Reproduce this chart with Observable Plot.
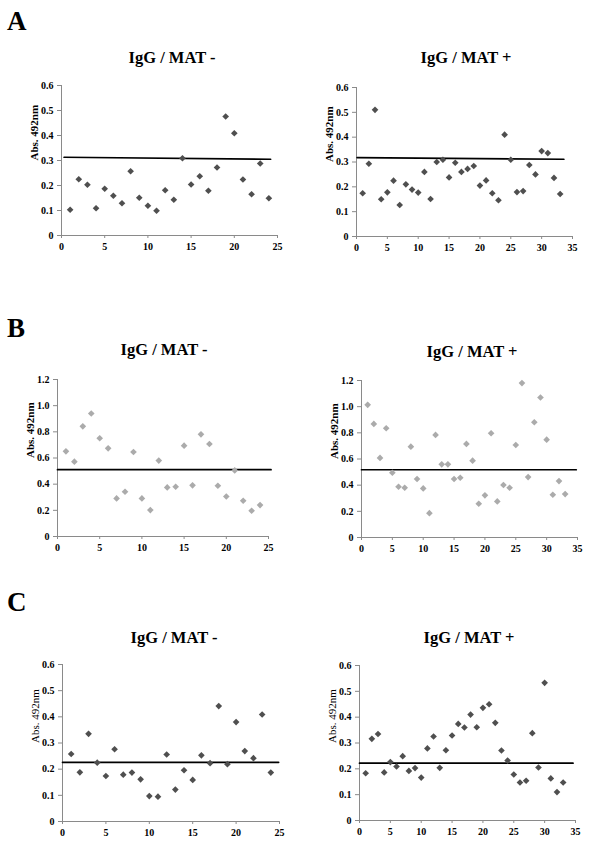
<!DOCTYPE html>
<html>
<head>
<meta charset="utf-8">
<script src="https://cdn.jsdelivr.net/npm/d3@7"></script>
<script src="https://cdn.jsdelivr.net/npm/@observablehq/plot@0.6"></script>
<style>
  html, body { margin: 0; padding: 0; background: #fff; }
  #fig { position: relative; width: 600px; height: 853px; overflow: hidden; background: #fff; }
  #fig .panel { position: absolute; }
  #fig svg.ann { position: absolute; left: 0; top: 0; pointer-events: none; }
</style>
</head>
<body>
<div id="fig"></div>
<script>
// ---------- data (absorbance at 492 nm, one value per serum sample) ----------
const aMinus = [0.103,0.225,0.203,0.109,0.187,0.159,0.129,0.257,0.151,0.119,0.099,0.181,0.143,0.309,0.204,0.237,0.179,0.272,0.476,0.409,0.224,0.165,0.288,0.149];
const aPlus  = [0.174,0.293,0.510,0.150,0.178,0.225,0.127,0.210,0.189,0.177,0.260,0.151,0.300,0.309,0.238,0.297,0.260,0.272,0.284,0.205,0.226,0.174,0.146,0.410,0.309,0.179,0.183,0.288,0.250,0.344,0.336,0.236,0.171];
const bMinus = [0.651,0.572,0.842,0.940,0.751,0.674,0.291,0.342,0.646,0.291,0.202,0.580,0.375,0.380,0.694,0.391,0.781,0.707,0.388,0.306,0.505,0.273,0.197,0.240];
const bPlus  = [1.014,0.868,0.608,0.835,0.495,0.388,0.380,0.694,0.447,0.375,0.186,0.784,0.559,0.559,0.447,0.457,0.715,0.587,0.258,0.322,0.797,0.276,0.401,0.380,0.707,1.180,0.462,0.881,1.070,0.748,0.327,0.431,0.332];
const cMinus = [0.258,0.188,0.335,0.225,0.174,0.276,0.179,0.187,0.161,0.097,0.095,0.256,0.122,0.196,0.159,0.253,0.223,0.441,0.219,0.380,0.269,0.242,0.409,0.187];
const cPlus  = [0.183,0.316,0.335,0.186,0.226,0.209,0.249,0.192,0.203,0.166,0.279,0.325,0.204,0.272,0.329,0.374,0.360,0.410,0.361,0.436,0.450,0.378,0.271,0.232,0.178,0.147,0.154,0.338,0.205,0.533,0.163,0.110,0.147];

// cut-off lines (start / end points)
const aMinusCut = [{x:0.3,y:0.313},{x:24.2,y:0.305}];
const aPlusCut  = [{x:0.1,y:0.318},{x:33.6,y:0.311}];
const bMinusCut = [{x:0,y:0.511},{x:25.3,y:0.511}];
const bPlusCut  = [{x:0,y:0.518},{x:34.8,y:0.518}];
const cMinusCut = [{x:0,y:0.226},{x:24.9,y:0.226}];
const cPlusCut  = [{x:0,y:0.222},{x:34.6,y:0.222}];

// tick labels
const xTicks25 = [0,5,10,15,20,25];
const xTicks35 = [0,5,10,15,20,25,30,35];
const yTicks06 = [0,0.1,0.2,0.3,0.4,0.5,0.6];
const yTicks12 = [0,0.2,0.4,0.6,0.8,1.0,1.2];

const titleMinus = "IgG / MAT -";
const titlePlus  = "IgG / MAT +";
const yLabel = "Abs. 492nm";
const panelLetters = ["A","B","C"];

// ---------- layout ----------
const SERIF = "'Liberation Serif', 'Times New Roman', Times, serif";
const DARK = "#4f4f4f", LIGHT = "#ababab", AXIS = "#8a8a8a";
const ML = 45, MR = 12, MT = 12, MB = 28;

const panels = [
  {vals:aMinus, cut:aMinusCut, xMax:25, xTicks:xTicks25, yMax:0.6, yTicks:yTicks06, color:DARK,  axisX:61,  xEnd:277, yTop:85,  yBot:235, lblBold:true},
  {vals:aPlus,  cut:aPlusCut,  xMax:35, xTicks:xTicks35, yMax:0.6, yTicks:yTicks06, color:DARK,  axisX:356, xEnd:572, yTop:87,  yBot:236, lblBold:true},
  {vals:bMinus, cut:bMinusCut, xMax:25, xTicks:xTicks25, yMax:1.2, yTicks:yTicks12, color:LIGHT, axisX:57,  xEnd:268, yTop:379, yBot:536, lblBold:true},
  {vals:bPlus,  cut:bPlusCut,  xMax:35, xTicks:xTicks35, yMax:1.2, yTicks:yTicks12, color:LIGHT, axisX:361, xEnd:577, yTop:380, yBot:537, lblBold:true},
  {vals:cMinus, cut:cMinusCut, xMax:25, xTicks:xTicks25, yMax:0.6, yTicks:yTicks06, color:DARK,  axisX:62,  xEnd:279, yTop:664, yBot:821, lblBold:false},
  {vals:cPlus,  cut:cPlusCut,  xMax:35, xTicks:xTicks35, yMax:0.6, yTicks:yTicks06, color:DARK,  axisX:359, xEnd:575, yTop:665, yBot:820, lblBold:false}
];

const fmt = d => d === 0 ? "0" : d.toFixed(1);
const fig = document.getElementById("fig");

for (const p of panels) {
  const data = p.vals.map((y, i) => ({x: i + 1, y}));
  const width = (p.xEnd - p.axisX) + ML + MR;
  const height = (p.yBot - p.yTop) + MT + MB;
  const chart = Plot.plot({
    width, height,
    marginLeft: ML, marginRight: MR, marginTop: MT, marginBottom: MB,
    style: {fontFamily: SERIF, fontSize: "10px", background: "transparent", color: "black"},
    x: {domain: [0, p.xMax]},
    y: {domain: [0, p.yMax]},
    marks: [
      Plot.axisX({ticks: p.xTicks, tickSize: 3, tickPadding: 4, tickFormat: d => String(d), label: null, stroke: AXIS, fill: "black", fontWeight: "bold", fontSize: 10}),
      Plot.axisY({ticks: p.yTicks, tickSize: 4, tickPadding: 4, tickFormat: fmt, label: null, stroke: AXIS, fill: "black", fontWeight: "bold", fontSize: 10}),
      Plot.ruleX([0], {stroke: AXIS, strokeWidth: 1}),
      Plot.ruleY([0], {stroke: AXIS, strokeWidth: 1}),
      Plot.text([yLabel], {frameAnchor: "left", rotate: -90, dx: -27, fontSize: 11, fontWeight: p.lblBold ? "bold" : "normal", fill: "black"}),
      Plot.line(p.cut, {x: "x", y: "y", stroke: "black", strokeWidth: 1.7}),
      Plot.dot(data, {x: "x", y: "y", symbol: "diamond2", r: 3, fill: p.color, stroke: "none"})
    ]
  });
  const div = document.createElement("div");
  div.className = "panel";
  div.style.left = (p.axisX - ML) + "px";
  div.style.top = (p.yTop - MT) + "px";
  div.appendChild(chart);
  fig.appendChild(div);
}

// ---------- titles and panel letters ----------
const NS = "http://www.w3.org/2000/svg";
const ann = document.createElementNS(NS, "svg");
ann.setAttribute("class", "ann");
ann.setAttribute("width", 600);
ann.setAttribute("height", 853);
fig.appendChild(ann);
function addText(str, x, y, size, anchor) {
  const t = document.createElementNS(NS, "text");
  t.setAttribute("x", x); t.setAttribute("y", y);
  t.setAttribute("font-family", SERIF);
  t.setAttribute("font-weight", "bold");
  t.setAttribute("font-size", size);
  t.setAttribute("text-anchor", anchor);
  t.setAttribute("fill", "black");
  t.textContent = str;
  ann.appendChild(t);
}
const titles = [
  {s: titleMinus, x: 172, y: 63}, {s: titlePlus, x: 466, y: 63},
  {s: titleMinus, x: 164, y: 355}, {s: titlePlus, x: 472, y: 357},
  {s: titleMinus, x: 174, y: 643}, {s: titlePlus, x: 469, y: 643}
];
for (const t of titles) addText(t.s, t.x, t.y, 16.5, "middle");
const letterPos = [{x: 7, y: 30}, {x: 7, y: 337}, {x: 7, y: 611}];
panelLetters.forEach((L, i) => addText(L, letterPos[i].x, letterPos[i].y, 27, "start"));
</script>
</body>
</html>
